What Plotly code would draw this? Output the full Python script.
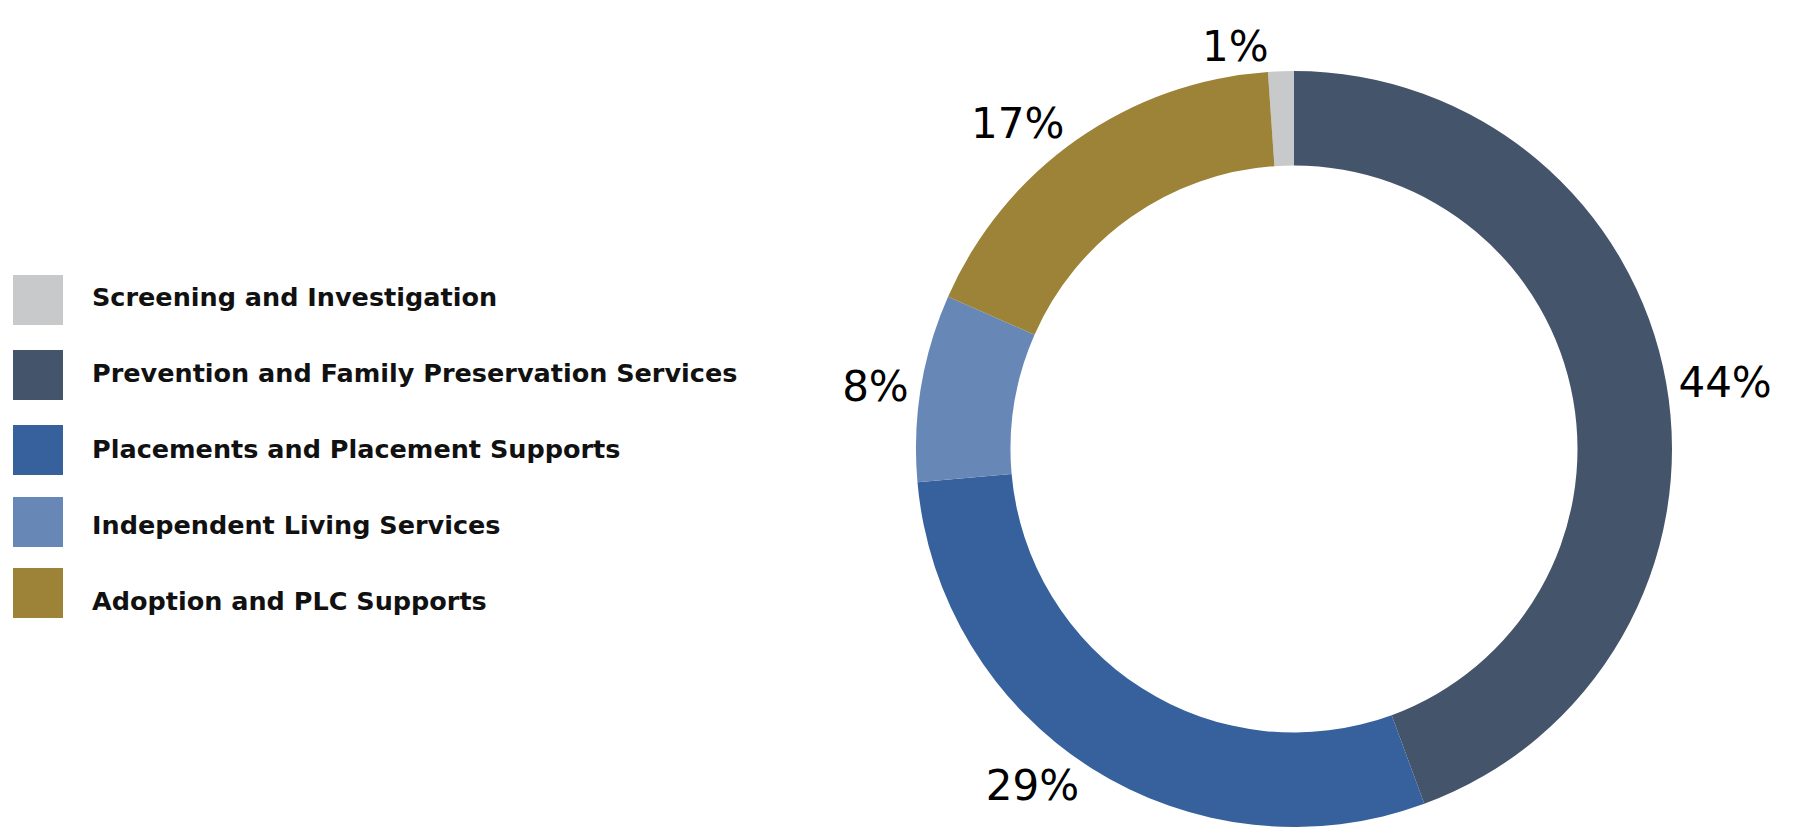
import plotly.graph_objects as go

categories = [
    "Screening and Investigation",
    "Prevention and Family Preservation Services",
    "Placements and Placement Supports",
    "Independent Living Services",
    "Adoption and PLC Supports",
]
values = [1.1, 44.4, 29.2, 8.0, 17.3]
pct_labels = ["1%", "44%", "29%", "8%", "17%"]
colors = ["#C8C9CB", "#44546B", "#36619D", "#6787B7", "#9C8338"]

W, H = 1797, 833
total = sum(values)

fig = go.Figure()
fig.add_trace(go.Pie(
    labels=categories,
    values=values,
    text=pct_labels,
    textinfo="text",
    textposition="outside",
    hoverinfo="label+percent",
    sort=False,
    direction="clockwise",
    rotation=-values[0] / total * 360,
    hole=0.75,
    marker=dict(colors=colors, line=dict(width=0)),
    outsidetextfont=dict(family="DejaVu Sans, sans-serif", size=42, color="#000000"),
    domain=dict(x=[(1294 - 378) / W, (1294 + 378) / W], y=[(H - 827) / H, (H - 71) / H]),
    showlegend=False,
))

# manual legend with large swatches (pixel layout)
sw = 50
swatch_cy = [300, 375, 450, 522, 593]
text_cy = [296, 372, 448, 524, 600]
shapes = []
annotations = []
for cat, col, sy, ty in zip(categories, colors, swatch_cy, text_cy):
    shapes.append(dict(
        type="rect", xref="paper", yref="paper",
        x0=13 / W, x1=(13 + sw) / W,
        y0=1 - (sy + sw / 2) / H, y1=1 - (sy - sw / 2) / H,
        fillcolor=col, line=dict(width=0),
    ))
    annotations.append(dict(
        xref="paper", yref="paper", x=90 / W, y=1 - (ty + 1) / H,
        xanchor="left", yanchor="middle", showarrow=False,
        text=cat,
        font=dict(family="DejaVu Sans, sans-serif", size=25.5, color="#111111", weight="bold"),
    ))

fig.update_layout(
    width=W, height=H,
    margin=dict(l=0, r=0, t=0, b=0),
    paper_bgcolor="white",
    plot_bgcolor="white",
    shapes=shapes,
    annotations=annotations,
)

fig.write_html("out.html", config={"displayModeBar": False},
               post_script="document.body.style.margin='0';")
